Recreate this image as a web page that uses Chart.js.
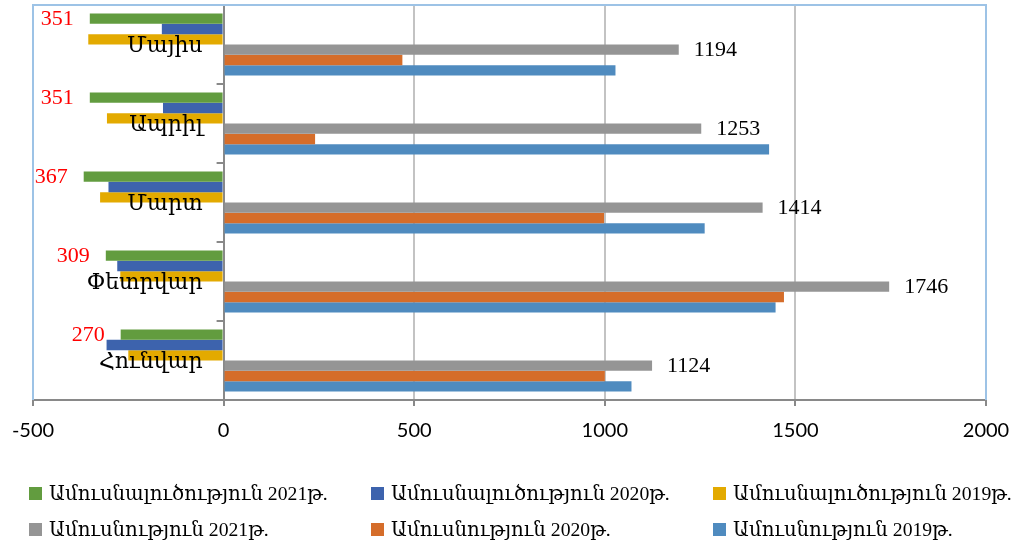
<!DOCTYPE html>
<html>
<head>
<meta charset="utf-8">
<script src="https://cdn.jsdelivr.net/npm/chart.js@4.4.1/dist/chart.umd.min.js"></script>
<style>
  html, body { margin: 0; padding: 0; background: #fff; }
  #wrap { position: relative; width: 1016px; height: 544px; }
  #legend {
    position: absolute; left: 29px; top: 475px;
    display: grid; grid-template-columns: 342px 342px auto;
    font-family: 'Liberation Serif', 'DejaVu Serif', serif; font-size: 19.7px; color: #000;
  }
  #legend .item { height: 36px; display: flex; align-items: center; white-space: nowrap; }
  #legend .box { width: 13px; height: 13px; margin-right: 7px; flex: none; }
</style>
</head>
<body>
<div id="wrap">
  <canvas id="chart" width="1016" height="544"></canvas>
  <div id="legend"></div>
</div>
<script>
const months = ['Մայիս', 'Ապրիլ', 'Մարտ', 'Փետրվար', 'Հունվար']
const divorce2021 = [-351, -351, -367, -309, -270]
const divorce2020 = [-162, -159, -302, -279, -307]
const divorce2019 = [-355, -306, -324, -271, -250]
const marriage2021 = [1194, 1253, 1414, 1746, 1124]
const marriage2020 = [469, 240, 998, 1470, 1000]
const marriage2019 = [1028, 1431, 1262, 1448, 1070]
const xTicks = [-500, 0, 500, 1000, 1500, 2000]

const seriesNames = [
  'Ամուսնալուծություն 2021թ.', 'Ամուսնալուծություն 2020թ.', 'Ամուսնալուծություն 2019թ.',
  'Ամուսնություն 2021թ.', 'Ամուսնություն 2020թ.', 'Ամուսնություն 2019թ.'
]
const seriesData = [divorce2021, divorce2020, divorce2019, marriage2021, marriage2020, marriage2019]
const colors = ['#629c3f', '#3d63ad', '#e3aa00', '#959595', '#d56d2a', '#4f8bbf']

const serif = "'Liberation Serif', 'DejaVu Serif', serif"

const gridColor = v => {
  if (v === 0) return '#898989'
  if (v === -500 || v === 2000) return 'rgba(0,0,0,0)'
  return '#c3c3c3'
}

// border, category ticks/labels and the value labels
const extras = {
  id: 'extras',
  afterDraw(chart) {
    const {ctx, chartArea: a, scales: {x, y}} = chart
    const zero = x.getPixelForValue(0)
    ctx.save()
    ctx.strokeStyle = '#9dc3e6'
    ctx.lineWidth = 2
    ctx.beginPath()
    ctx.moveTo(a.left, a.bottom)
    ctx.lineTo(a.left, a.top)
    ctx.lineTo(a.right, a.top)
    ctx.lineTo(a.right, a.bottom)
    ctx.stroke()

    ctx.strokeStyle = '#898989'
    ctx.beginPath()
    for (let i = 0; i < months.length - 1; i++) {
      const yy = Math.round((y.getPixelForValue(i) + y.getPixelForValue(i + 1)) / 2)
      ctx.moveTo(zero - 7, yy)
      ctx.lineTo(zero, yy)
    }
    ctx.stroke()

    ctx.font = '22px ' + serif
    ctx.fillStyle = '#000'
    ctx.textAlign = 'right'
    ctx.textBaseline = 'alphabetic'
    months.forEach((m, i) => ctx.fillText(m, zero - 21, y.getPixelForValue(i) + 7))

    ctx.textBaseline = 'middle'
    ctx.fillStyle = '#ff0000'
    chart.getDatasetMeta(0).data.forEach((el, i) => {
      ctx.fillText(String(Math.abs(divorce2021[i])), el.x - 16, el.y + 1)
    })
    ctx.fillStyle = '#000'
    ctx.textAlign = 'left'
    chart.getDatasetMeta(3).data.forEach((el, i) => {
      ctx.fillText(String(marriage2021[i]), el.x + 15, el.y + 1)
    })
    ctx.restore()
  }
}

new Chart(document.getElementById('chart'), {
  type: 'bar',
  data: {
    labels: months,
    datasets: seriesData.map((d, i) => ({
      label: seriesNames[i],
      data: d,
      backgroundColor: colors[i],
      borderWidth: 0,
      categoryPercentage: 0.785,
      barPercentage: 1
    }))
  },
  options: {
    indexAxis: 'y',
    responsive: false,
    animation: false,
    layout: { padding: { left: 33, right: 30, top: 5, bottom: 0 } },
    scales: {
      x: {
        min: -500, max: 2000,
        afterBuildTicks: s => { s.ticks = xTicks.map(v => ({value: v})) },
        afterFit: s => { s.height = 144; s.paddingLeft = 0; s.paddingRight = 0 },
        ticks: { color: '#000', padding: 13, font: { family: 'Lato', size: 20 }, callback: v => String(v) },
        grid: { color: c => gridColor(c.tick ? c.tick.value : null), lineWidth: 2, tickLength: 6, tickColor: '#898989' },
        border: { color: '#898989', width: 2 }
      },
      y: { display: false }
    },
    plugins: {
      legend: { display: false },
      tooltip: { enabled: false }
    }
  },
  plugins: [extras]
})

const legend = document.getElementById('legend')
seriesNames.forEach((name, i) => {
  const item = document.createElement('div')
  item.className = 'item'
  item.innerHTML = '<span class="box" style="background:' + colors[i] + '"></span><span>' + name + '</span>'
  legend.appendChild(item)
})
</script>
</body>
</html>
